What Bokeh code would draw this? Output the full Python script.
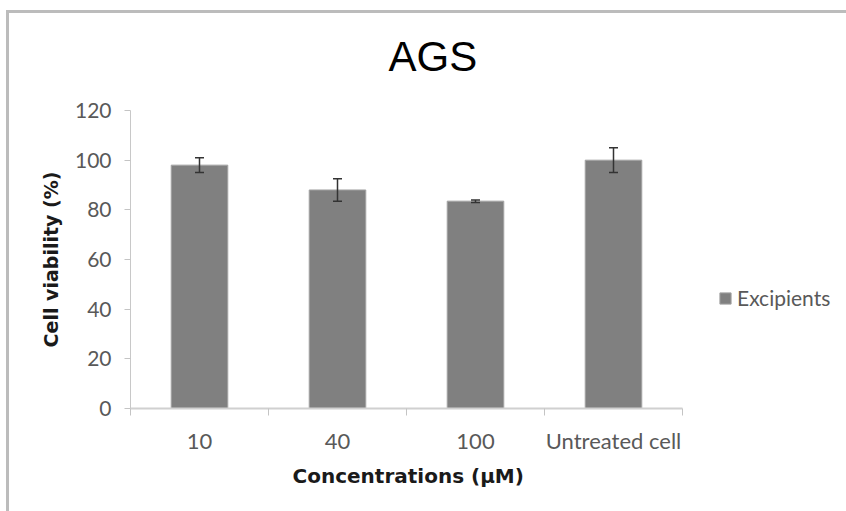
from bokeh.plotting import figure
from bokeh.models import (ColumnDataSource, FixedTicker, Whisker, TeeHead,
                          Legend, LegendItem, Range1d, Title)
from bokeh.embed import file_html
from bokeh.resources import INLINE

# Cell viability of AGS cells treated with excipients
categories = ["10", "40", "100", "Untreated cell"]
viability = [98, 88, 83.5, 100]
errors = [3, 4.5, 0.5, 5]
y_ticks = [0, 20, 40, 60, 80, 100, 120]

xs = [i + 0.5 for i in range(len(categories))]
src = ColumnDataSource(dict(
    x=xs,
    top=viability,
    upper=[v + e for v, e in zip(viability, errors)],
    lower=[v - e for v, e in zip(viability, errors)],
))

W, H = 846, 511
LEFT, TOP, BOTTOM = 130, 110, 103
CAT_PX = 138  # horizontal space per category
frame_w = W - LEFT
x_end = len(categories) * frame_w / (CAT_PX * len(categories))

p = figure(width=W, height=H, output_backend="svg", toolbar_location=None,
           x_range=Range1d(0, x_end), y_range=Range1d(0, 120),
           min_border_left=LEFT, min_border_right=0,
           min_border_top=TOP, min_border_bottom=BOTTOM)
p.outline_line_color = None
p.background_fill_color = "white"
p.border_fill_color = "white"
p.grid.visible = False

# title
p.title.text = "AGS"
p.title.text_font = "Liberation Sans"
p.title.text_font_size = "42px"
p.title.text_font_style = "normal"
p.title.text_color = "#000000"
p.title.align = "left"
p.title.offset = 258
p.title.standoff = 61

bars = p.vbar(x="x", top="top", width=0.41, source=src,
              fill_color="#808080", line_color="#a3a3a3", line_width=1)

# error bars drawn above the bars
p.add_layout(Whisker(source=src, base="x", upper="upper", lower="lower",
                     level="overlay", line_color="#333333", line_width=1.5,
                     upper_head=TeeHead(size=9, line_color="#333333", line_width=1.5),
                     lower_head=TeeHead(size=9, line_color="#333333", line_width=1.5)))

# x axis: labels at category centres, tick marks at category boundaries
xa = p.xaxis[0]
xa.bounds = (0, len(categories))
xa.ticker = FixedTicker(ticks=xs, minor_ticks=list(range(len(categories) + 1)))
xa.major_label_overrides = {x: c for x, c in zip(xs, categories)}
xa.major_tick_line_color = None
xa.minor_tick_in = 0
xa.minor_tick_out = 7
xa.minor_tick_line_color = "#c4c4c4"
xa.axis_line_color = "#d0d0d0"
xa.axis_line_width = 2
xa.major_label_text_font = "Lato"
xa.major_label_text_font_size = "22px"
xa.major_label_text_color = "#595959"
xa.major_label_standoff = 11

# x axis title, centred under the category span
p.add_layout(Title(text="Concentrations (μM)", align="left", offset=162,
                   standoff=10, text_font="DejaVu Sans", text_font_size="20px",
                   text_font_style="bold", text_color="#1a1a1a"), "below")

ya = p.yaxis[0]
ya.ticker = FixedTicker(ticks=y_ticks, minor_ticks=[])
ya.major_tick_in = 0
ya.major_tick_out = 6
ya.major_tick_line_color = "#c4c4c4"
ya.axis_line_color = "#c8c8c8"
ya.minor_tick_line_color = None
ya.major_label_text_font = "Lato"
ya.major_label_text_font_size = "21px"
ya.major_label_text_color = "#595959"
ya.major_label_standoff = 13
ya.axis_label = "Cell viability (%)"
ya.axis_label_text_font = "DejaVu Sans"
ya.axis_label_text_font_size = "19px"
ya.axis_label_text_font_style = "bold"
ya.axis_label_text_color = "#1a1a1a"
ya.axis_label_standoff = 10

legend = Legend(items=[LegendItem(label="Excipients", renderers=[bars])],
                location=(588, 98), border_line_color=None,
                background_fill_alpha=0, padding=0, margin=0,
                glyph_width=14, glyph_height=14, label_standoff=5,
                label_text_font="Lato", label_text_font_size="21px",
                label_text_color="#595959")
p.add_layout(legend, "center")

html = file_html(p, INLINE)
# grey frame running along the top and left edges of the chart area
frame_div = ('<div style="position:fixed;left:6px;top:10px;width:1000px;height:1000px;'
             'border-top:3px solid #bcbcbc;border-left:3px solid #bcbcbc;'
             'pointer-events:none;z-index:10"></div>')
html = html.replace("</body>", frame_div + "</body>", 1)
open("out.html", "w").write(html)
